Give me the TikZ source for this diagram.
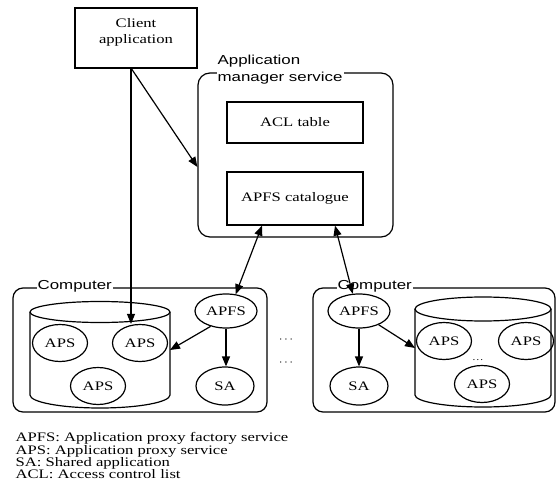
\documentclass[tikz,border=0pt]{standalone}
\usepackage{fontspec}
\setmainfont[FakeStretch=1.28]{Liberation Serif}
\setsansfont[FakeStretch=1.3]{Liberation Sans}
\usetikzlibrary{shapes.geometric,arrows.meta}

\begin{document}
\begin{tikzpicture}[x=1pt,y=-1pt,line width=1.2pt,
    >={Triangle[length=10pt,width=8pt]},
    font=\fontsize{13}{16}\selectfont]
    \tikzstyle{box}=[draw,rectangle,inner sep=0pt]
    \tikzstyle{blob}=[draw,ellipse,inner sep=0pt,minimum width=55,minimum height=37]
    \tikzstyle{tag}=[fill=white,inner sep=1pt,font=\sffamily\fontsize{13}{17}\selectfont]
    \useasboundingbox (0,0) rectangle (557,497);
    % client and manager service
    \node [box,minimum width=122,minimum height=60] (client) at (136,38) {};
    \node [align=center] (clienttxt) at ([yshift=5.5pt]client.center) {Client\\application};
    \node [draw,rounded corners=12,minimum width=195,minimum height=164] (ams) at (295.5,155) {};
    \node [tag,anchor=south west,align=left] (amslbl) at (216,86) {Application\\manager service};
    \node [box,minimum width=136,minimum height=41] (acl) at (295,122.5) {ACL table};
    \node [box,minimum width=136,minimum height=53] (cat) at (295,198.5) {APFS catalogue};
    % computers
    \node [draw,rounded corners=10,minimum width=254,minimum height=124] (compL) at (140,350) {};
    \node [draw,rounded corners=10,minimum width=242,minimum height=124] (compR) at (434,350) {};
    \node [tag,anchor=base west] (compLlbl) at (36,290) {Computer};
    \node [tag,anchor=base west] (compRlbl) at (336,290) {Computer};
    % cylinders
    \draw (100,312) ellipse [x radius=70pt,y radius=10.5pt];
    \draw (30,312) -- (30,395) arc [start angle=180,end angle=360,x radius=70pt,y radius=13pt] -- (170,312);
    \draw (483,309) ellipse [x radius=68pt,y radius=12pt];
    \draw (415,309) -- (415,395) arc [start angle=180,end angle=360,x radius=68pt,y radius=12pt] -- (551,309);
    \coordinate (cylL) at (170,350);
    \coordinate (cylR) at (415,348);
    % services
    \node [blob] (apsA) at (60,343) {APS};
    \node [blob] (apsB) at (140,343) {APS};
    \node [blob] (apsC) at (98,386) {APS};
    \node [blob,minimum width=62,minimum height=34] (apfsL) at (226,311) {APFS};
    \node [blob,minimum width=58,minimum height=38] (saL) at (225,386) {SA};
    \node [blob,minimum width=62,minimum height=34] (apfsR) at (359,311) {APFS};
    \node [blob,minimum width=58,minimum height=38] (saR) at (359,386) {SA};
    \node [blob] (apsD) at (444,341) {APS};
    \node [blob] (apsE) at (526,341) {APS};
    \node [blob] (apsF) at (482,384) {APS};
    \node (dotsA) at (286,340) {$\cdots$};
    \node (dotsB) at (286,363) {$\cdots$};
    \node [font=\fontsize{9}{9}\selectfont] (dotsC) at (478,360) {\ldots};
    % arrows
    \coordinate (cout) at (131,68);
    \draw [->] (cout) -- (cout |- apsB.north);
    \draw [->] (cout) -- ([yshift=-12pt]ams.west);
    \draw [<->] ([xshift=-33pt]cat.south) -- (apfsL.60);
    \draw [<->] ([xshift=40pt]cat.south) -- (apfsR.110);
    \draw [->] (apfsL.south) -- (apfsL.south |- saL.north);
    \draw [->] (apfsL.225) -- (cylL);
    \draw [->] (apfsR.south) -- (apfsR.south |- saR.north);
    \draw [->] (apfsR.-35) -- (cylR);
    % legend
    \node [anchor=north west,align=left,inner sep=0pt,font=\fontsize{13}{12.3}\selectfont] (legend) at (15,432)
        {APFS: Application proxy factory service\\APS: Application proxy service\\SA: Shared application\\ACL: Access control list};
\end{tikzpicture}
\end{document}
